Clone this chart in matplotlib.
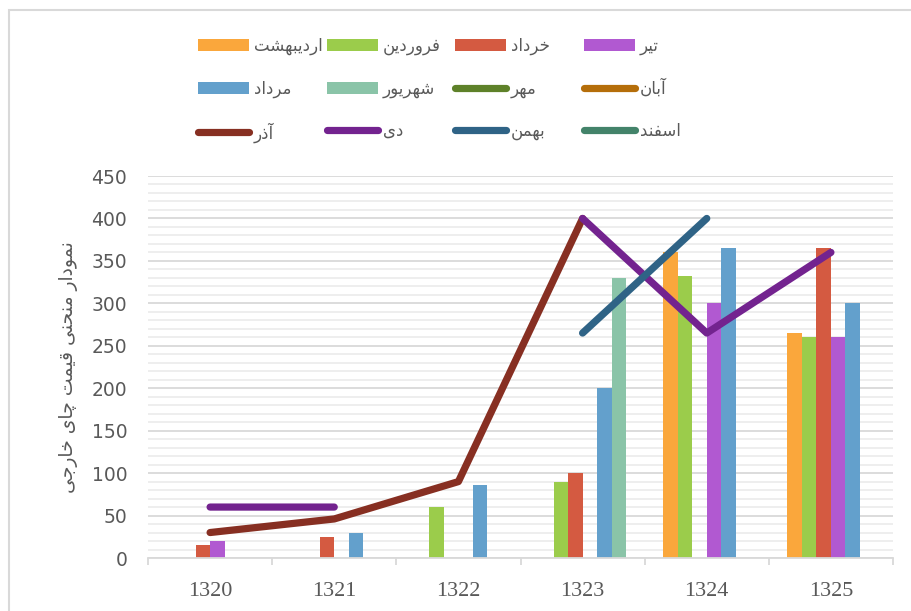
import numpy as np
import matplotlib
matplotlib.use("Agg")
import matplotlib.pyplot as plt
from matplotlib.ticker import MultipleLocator, FixedLocator
from matplotlib.patches import Rectangle

# --- data -------------------------------------------------------------
years = ['1320', '1321', '1322', '1323', '1324', '1325']

bar_names = ['اردیبهشت', 'فروردین', 'خرداد', 'تیر', 'مرداد', 'شهریور']
ordibehesht = [0, 0, 0, 0, 360, 265]
farvardin = [0, 0, 60, 90, 332, 260]
khordad = [15, 25, 0, 100, 0, 365]
tir = [20, 0, 0, 0, 300, 260]
mordad = [0, 30, 86, 200, 365, 300]
shahrivar = [0, 0, 0, 330, 0, 0]
bar_values = [ordibehesht, farvardin, khordad, tir, mordad, shahrivar]
bar_colors = ['#FAA73C', '#9BCC4B', '#D45A41', '#B159D1', '#63A0CC', '#8AC4A8']

line_names = ['مهر', 'آبان', 'آذر', 'دی', 'بهمن', 'اسفند']
mehr = [np.nan] * 6
aban = [np.nan] * 6
azar = [30, 46, 90, 400, np.nan, np.nan]
dey = [60, 60, np.nan, 400, 265, 360]
bahman = [np.nan, np.nan, np.nan, 265, 400, np.nan]
esfand = [np.nan] * 6
line_values = [mehr, aban, azar, dey, bahman, esfand]
line_colors = ['#5E8129', '#B56E0A', '#872F22', '#73238F', '#2F6386', '#43836A']

ylabel_text = 'نمودار منحنی قیمت چای خارجی'

# --- simple persian shaping (no bidi lib available) -------------------
FORMS = {
    'ا': ('\uFE8D', '\uFE8E', None, None),
    'آ': ('\uFE81', '\uFE82', None, None),
    'ب': ('\uFE8F', '\uFE90', '\uFE91', '\uFE92'),
    'ت': ('\uFE95', '\uFE96', '\uFE97', '\uFE98'),
    'ج': ('\uFE9D', '\uFE9E', '\uFE9F', '\uFEA0'),
    'چ': ('\uFB7A', '\uFB7B', '\uFB7C', '\uFB7D'),
    'ح': ('\uFEA1', '\uFEA2', '\uFEA3', '\uFEA4'),
    'خ': ('\uFEA5', '\uFEA6', '\uFEA7', '\uFEA8'),
    'د': ('\uFEA9', '\uFEAA', None, None),
    'ذ': ('\uFEAB', '\uFEAC', None, None),
    'ر': ('\uFEAD', '\uFEAE', None, None),
    'س': ('\uFEB1', '\uFEB2', '\uFEB3', '\uFEB4'),
    'ش': ('\uFEB5', '\uFEB6', '\uFEB7', '\uFEB8'),
    'ف': ('\uFED1', '\uFED2', '\uFED3', '\uFED4'),
    'ق': ('\uFED5', '\uFED6', '\uFED7', '\uFED8'),
    'م': ('\uFEE1', '\uFEE2', '\uFEE3', '\uFEE4'),
    'ن': ('\uFEE5', '\uFEE6', '\uFEE7', '\uFEE8'),
    'ه': ('\uFEE9', '\uFEEA', '\uFEEB', '\uFEEC'),
    'و': ('\uFEED', '\uFEEE', None, None),
    'ی': ('\uFBFC', '\uFBFD', '\uFBFE', '\uFBFF'),
}


def shape(text):
    words = []
    for word in text.split(' '):
        res = []
        for i, c in enumerate(word):
            iso, fin, ini, med = FORMS[c]
            prev_j = i > 0 and FORMS[word[i - 1]][2] is not None
            next_j = i < len(word) - 1 and ini is not None
            if prev_j and next_j:
                res.append(med)
            elif prev_j:
                res.append(fin)
            elif next_j:
                res.append(ini)
            else:
                res.append(iso)
        words.append(''.join(res))
    return ' '.join(words)[::-1]


fa_font = ['DejaVu Sans']
grey = '#595959'

# --- figure -----------------------------------------------------------
fig = plt.figure(figsize=(9.12, 6.11), dpi=100)
ax = fig.add_axes([148 / 912, 1 - 558 / 611, 745 / 912, 382 / 611])

x = np.arange(len(years))
w = 0.117
handles = {}
for k, (vals, col, name) in enumerate(zip(bar_values, bar_colors, bar_names)):
    b = ax.bar(x + (k - 2.5) * w, vals, width=w, color=col, zorder=2)
    handles[name] = b

for vals, col, name in zip(line_values, line_colors, line_names):
    ln, = ax.plot(x, vals, color=col, lw=5.2, solid_capstyle='round',
                  solid_joinstyle='round', zorder=3)
    handles[name] = ln

ax.set_xlim(-0.5, 5.5)
ax.set_ylim(0, 450)
ax.yaxis.set_major_locator(MultipleLocator(50))
ax.yaxis.set_minor_locator(MultipleLocator(10))
ax.grid(axis='y', which='major', color='#d9d9d9', lw=1.3)
ax.grid(axis='y', which='minor', color='#ededed', lw=1.3)
ax.set_axisbelow(True)

ax.set_xticks(x)
ax.set_xticklabels(years, family='Liberation Serif', fontsize=16, color=grey)
ax.xaxis.set_minor_locator(FixedLocator(np.arange(-0.5, 6, 1)))
ax.tick_params(axis='x', which='major', length=0, pad=17)
ax.tick_params(axis='x', which='minor', length=5, width=1.3, color='#d9d9d9')
ax.tick_params(axis='y', which='both', length=0, pad=15, labelsize=13.5,
               labelcolor=grey)

for s in ['top', 'right', 'left']:
    ax.spines[s].set_visible(False)
ax.spines['bottom'].set_color('#d9d9d9')
ax.spines['bottom'].set_linewidth(1.3)

ax.set_ylabel(shape(ylabel_text), family=fa_font, fontsize=13.5, color=grey,
              labelpad=10)

# legend: 4 columns of 3 rows, filled row by row
legend_rows = [['اردیبهشت', 'فروردین', 'خرداد', 'تیر'],
               ['مرداد', 'شهریور', 'مهر', 'آبان'],
               ['آذر', 'دی', 'بهمن', 'اسفند']]
col_x = [198, 327, 455, 584]
for c, px in enumerate(col_x):
    names = [row[c] for row in legend_rows]
    leg = fig.legend([handles[n] for n in names], [shape(n) for n in names],
                     loc='upper left', bbox_to_anchor=(px / 912, 1 - 37 / 611),
                     frameon=False, borderpad=0, borderaxespad=0,
                     handlelength=3.05, handleheight=0.72, handletextpad=0.3,
                     labelspacing=1.45, prop={'family': fa_font, 'size': 12})
    for t in leg.get_texts():
        t.set_color(grey)

# chart border
fig.add_artist(Rectangle((9 / 912, -0.05), 1.0, 1.05 - 10 / 611,
                         transform=fig.transFigure, fill=False,
                         edgecolor='#d9d9d9', lw=1.5))

fig.savefig('out.png', dpi=100)
